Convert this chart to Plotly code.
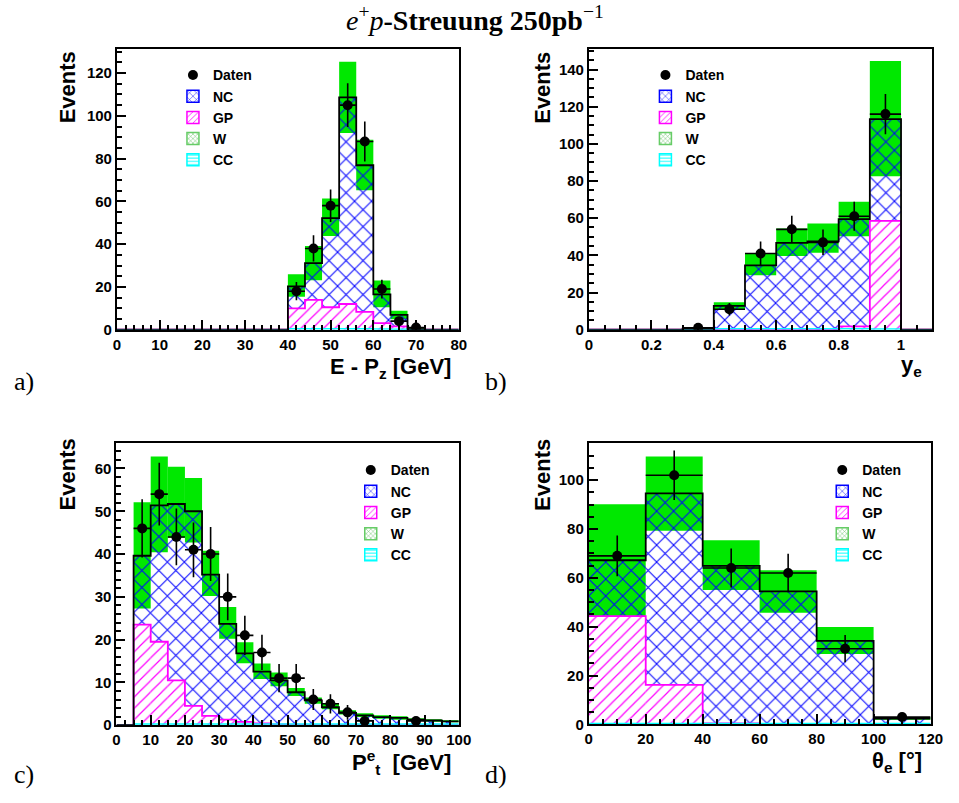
import numpy as np
import plotly.graph_objects as go

# ---------------- data ----------------
# Panel a: E - Pz [GeV], bins of 4 GeV from 0 to 80
A_X0, A_BW = 0.0, 4.0
a_total = [0]*10 + [20.3, 31.1, 52.2, 108.6, 76.9, 16.5, 6.9, 0.3, 0, 0]
a_band_hi = [0]*10 + [25.9, 39.1, 61.3, 125.3, 88.8, 23.0, 8.9, 0.6, 0, 0]
a_band_lo = [0]*10 + [15.4, 23.1, 43.8, 92.0, 65.2, 10.5, 4.9, 0.1, 0, 0]
a_gp = [0]*10 + [10.0, 13.9, 10.5, 12.0, 8.3, 3.1, 1.5, 0, 0, 0]
a_cc = [0]*10 + [0.4, 0.4, 0.4, 0.4, 0.4, 0.3, 0.2, 0, 0, 0]
a_data = [0]*10 + [18, 38, 58, 105, 88, 19, 4, 1, 0, 0]

# Panel b: y_e, bins of 0.1 from 0 to 1.1
B_X0, B_BW = 0.0, 0.1
b_total = [0, 0, 0, 0.5, 12.8, 34.6, 46.7, 47.5, 59.5, 113.3, 0]
b_band_hi = [0, 0, 0, 0.8, 14.7, 40.9, 54.4, 57.2, 68.9, 144.6, 0]
b_band_lo = [0, 0, 0, 0.2, 10.7, 29.3, 39.6, 41.4, 50.3, 82.6, 0]
b_gp = [0, 0, 0, 0, 0, 0, 0, 0, 1.8, 58.6, 0]
b_cc = [0, 0, 0, 0, 0.5, 0.5, 0.5, 0.5, 0.5, 0.4, 0]
b_data = [0, 0, 0, 1, 11, 41, 54, 47, 61, 116, 0]

# Panel c: P_t^e [GeV], bins of 5 GeV from 0 to 100
C_X0, C_BW = 0.0, 5.0
c_total = [0, 39.6, 51.4, 51.7, 50.0, 35.2, 23.7, 16.8, 12.5, 10.5,
           7.7, 5.8, 4.2, 2.9, 2.3, 1.9, 1.7, 1.3, 1.1, 0.9]
c_band_hi = [0, 52.1, 62.8, 60.4, 57.8, 40.8, 27.6, 19.4, 14.4, 12.3,
             8.7, 6.5, 5.0, 3.5, 2.8, 2.3, 2.1, 1.6, 1.4, 1.1]
c_band_lo = [0, 27.3, 40.4, 43.8, 42.7, 30.2, 20.2, 14.5, 10.8, 9.1,
             6.8, 5.0, 3.7, 2.5, 1.9, 1.5, 1.3, 1.0, 0.8, 0.7]
c_gp = [0, 23.5, 19.5, 10.5, 4.5, 2.2, 1.3, 0.8, 0.4, 0.2,
        0.1, 0, 0, 0, 0, 0, 0, 0, 0, 0]
c_cc = [0, 0.3, 0.3, 0.3, 0.3, 0.3, 0.3, 0.3, 0.3, 0.3,
        0.3, 0.3, 0.3, 0.3, 0.3, 0.3, 0.3, 0.3, 0.3, 0.3]
c_data = [0, 46, 54, 44, 41, 40, 30, 21, 17, 11,
          11, 6, 5, 3, 1, 0, 0, 1, 0, 0]

# Panel d: theta_e [deg], bins of 20 deg from 0 to 120
D_X0, D_BW = 0.0, 20.0
d_total = [67.2, 94.6, 64.9, 54.5, 34.2, 2.4]
d_band_hi = [90.1, 109.7, 75.4, 63.1, 39.9, 2.9]
d_band_lo = [44.2, 79.3, 55.0, 45.7, 28.8, 1.9]
d_gp = [44.3, 16.2, 0.4, 0, 0, 0]
d_cc = [0.4, 0.4, 0.4, 0.4, 0.4, 0.4]
d_data = [69, 102, 64, 62, 31, 3]

legend_names = ["Daten", "NC", "GP", "W", "CC"]

# ---------------- style ----------------
W, H = 959, 803
GREEN = "#00e800"
BLUE = "#0000ff"
MAGENTA = "#ff00ff"
CYAN = "#00ffff"
FONT = "Liberation Sans"
SERIF = "Liberation Serif"

def px_x(p):
    return p / W

def px_y(p):
    return 1 - p / H

panels = [
    dict(x0=A_X0, bw=A_BW, total=a_total, hi=a_band_hi, lo=a_band_lo, gp=a_gp, cc=a_cc, data=a_data,
         xdom=(115, 463), ydom=(49, 333), xr=[0, 80], yr=[0, 131.5], xd=10, xm=2, yd=20, ym=5,
         leg=(172, 60)),
    dict(x0=B_X0, bw=B_BW, total=b_total, hi=b_band_hi, lo=b_band_lo, gp=b_gp, cc=b_cc, data=b_data,
         xdom=(595.5, 945), ydom=(49, 333), xr=[0, 1.1], yr=[0, 151.3], xd=0.2, xm=0.05, yd=20, ym=5,
         leg=(653, 60)),
    dict(x0=C_X0, bw=C_BW, total=c_total, hi=c_band_hi, lo=c_band_lo, gp=c_gp, cc=c_cc, data=c_data,
         xdom=(114.5, 463), ydom=(447.7, 732.5), xr=[0, 100], yr=[0, 65.9], xd=10, xm=2.5, yd=10, ym=2,
         leg=(353, 459)),
    dict(x0=D_X0, bw=D_BW, total=d_total, hi=d_band_hi, lo=d_band_lo, gp=d_gp, cc=d_cc, data=d_data,
         xdom=(595.3, 943.3), ydom=(447.7, 731.7), xr=[0, 120], yr=[0, 115.1], xd=20, xm=5, yd=20, ym=5,
         leg=(833, 459)),
]

fig = go.Figure()
layout = dict(
    width=W, height=H, margin=dict(l=0, r=0, t=0, b=0),
    paper_bgcolor="white", plot_bgcolor="white", barmode="overlay",
    showlegend=True,
)

tickfont = dict(family=FONT, size=15, color="black", weight="bold")

for i, p in enumerate(panels):
    k = i + 1
    xa = "x" if k == 1 else f"x{k}"
    ya = "y" if k == 1 else f"y{k}"
    lg = "legend" if k == 1 else f"legend{k}"
    n = len(p["total"])
    centers = np.array([p["x0"] + p["bw"] * (j + 0.5) for j in range(n)])
    edges = np.array([p["x0"] + p["bw"] * j for j in range(n + 1)])
    total = np.array(p["total"], float)
    hi = np.array(p["hi"], float)
    lo = np.array(p["lo"], float)
    gp = np.array(p["gp"], float)
    cc = np.array(p["cc"], float)
    data = np.array(p["data"], float)

    # error band
    fig.add_trace(go.Bar(x=centers, y=hi - lo, base=lo, width=p["bw"], xaxis=xa, yaxis=ya,
                         marker=dict(color=GREEN, line=dict(width=0)), showlegend=False,
                         hoverinfo="skip"))
    # GP (hatched)
    fig.add_trace(go.Bar(x=centers, y=gp, base=0, width=p["bw"], xaxis=xa, yaxis=ya,
                         marker=dict(color="rgba(0,0,0,0)", line=dict(width=0),
                                     pattern=dict(shape="/", fgcolor=MAGENTA, bgcolor="rgba(0,0,0,0)",
                                                  size=8, solidity=0.15, fillmode="replace")),
                         showlegend=False, hoverinfo="skip"))
    # NC (cross-hatched) from GP top to total
    fig.add_trace(go.Bar(x=centers, y=np.clip(total - gp, 0, None), base=gp, width=p["bw"],
                         xaxis=xa, yaxis=ya,
                         marker=dict(color="rgba(0,0,0,0)", line=dict(width=0),
                                     pattern=dict(shape="x", fgcolor=BLUE, bgcolor="rgba(0,0,0,0)",
                                                  size=12, solidity=0.16, fillmode="replace")),
                         showlegend=False, hoverinfo="skip"))
    # GP outline
    fig.add_trace(go.Scatter(x=edges, y=np.append(gp, gp[-1]), mode="lines", line_shape="hv",
                             line=dict(color=MAGENTA, width=1.8), xaxis=xa, yaxis=ya,
                             showlegend=False, hoverinfo="skip"))
    # CC
    fig.add_trace(go.Scatter(x=edges, y=np.append(cc, cc[-1]), mode="lines", line_shape="hv",
                             line=dict(color=CYAN, width=1.5), xaxis=xa, yaxis=ya,
                             showlegend=False, hoverinfo="skip"))
    # total outline
    fig.add_trace(go.Scatter(x=edges, y=np.append(total, total[-1]), mode="lines", line_shape="hv",
                             line=dict(color="black", width=1.8), xaxis=xa, yaxis=ya,
                             showlegend=False, hoverinfo="skip"))
    # data
    m = data > 0
    fig.add_trace(go.Scatter(x=centers[m], y=data[m], mode="markers", xaxis=xa, yaxis=ya,
                             marker=dict(color="black", size=10),
                             error_y=dict(type="data", array=np.sqrt(data[m]), color="black",
                                          thickness=1.6, width=0),
                             error_x=dict(type="data", array=np.full(m.sum(), p["bw"] / 2),
                                          color="black", thickness=1.6, width=0),
                             showlegend=False, hoverinfo="skip"))

    # legend-only entries
    fig.add_trace(go.Scatter(x=[None], y=[None], mode="markers", name=legend_names[0],
                             marker=dict(color="black", size=10), xaxis=xa, yaxis=ya,
                             legend=lg, legendrank=1))
    fig.add_trace(go.Bar(x=[None], y=[None], name=legend_names[1], xaxis=xa, yaxis=ya,
                         marker=dict(color="white", line=dict(color=BLUE, width=1.5),
                                     pattern=dict(shape="x", fgcolor=BLUE, bgcolor="white",
                                                  size=6, solidity=0.18, fillmode="replace")),
                         legend=lg, legendrank=2))
    fig.add_trace(go.Bar(x=[None], y=[None], name=legend_names[2], xaxis=xa, yaxis=ya,
                         marker=dict(color="white", line=dict(color=MAGENTA, width=1.5),
                                     pattern=dict(shape="/", fgcolor=MAGENTA, bgcolor="white",
                                                  size=5, solidity=0.2, fillmode="replace")),
                         legend=lg, legendrank=3))
    fig.add_trace(go.Bar(x=[None], y=[None], name=legend_names[3], xaxis=xa, yaxis=ya,
                         marker=dict(color="white", line=dict(color="#66cc66", width=1.5),
                                     pattern=dict(shape="x", fgcolor="#55bb55", bgcolor="white",
                                                  size=4, solidity=0.25, fillmode="replace")),
                         legend=lg, legendrank=4))
    fig.add_trace(go.Bar(x=[None], y=[None], name=legend_names[4], xaxis=xa, yaxis=ya,
                         marker=dict(color="white", line=dict(color=CYAN, width=1.5),
                                     pattern=dict(shape="-", fgcolor=CYAN, bgcolor="white",
                                                  size=4, solidity=0.3, fillmode="replace")),
                         legend=lg, legendrank=5))

    xkey = "xaxis" if k == 1 else f"xaxis{k}"
    ykey = "yaxis" if k == 1 else f"yaxis{k}"
    layout[xkey] = dict(
        domain=[px_x(p["xdom"][0]), px_x(p["xdom"][1])], range=p["xr"], anchor=ya,
        showline=True, linecolor="black", linewidth=2, mirror=True,
        ticks="inside", ticklen=10, tickwidth=1.5, tickcolor="black",
        tick0=0, dtick=p["xd"], showgrid=False, zeroline=False,
        minor=dict(ticks="inside", ticklen=5, tickwidth=1.5, tickcolor="black",
                   dtick=p["xm"], tick0=0, showgrid=False),
        tickfont=tickfont, fixedrange=True,
    )
    layout[ykey] = dict(
        domain=[px_y(p["ydom"][1]), px_y(p["ydom"][0])], range=p["yr"], anchor=xa,
        showline=True, linecolor="black", linewidth=2, mirror=True,
        ticks="inside", ticklen=9, tickwidth=1.5, tickcolor="black",
        tick0=0, dtick=p["yd"], showgrid=False, zeroline=False,
        minor=dict(ticks="inside", ticklen=5, tickwidth=1.5, tickcolor="black",
                   dtick=p["ym"], tick0=0, showgrid=False),
        tickfont=tickfont, fixedrange=True,
    )
    layout[lg] = dict(
        x=px_x(p["leg"][0]), y=px_y(p["leg"][1]), xanchor="left", yanchor="top",
        bgcolor="rgba(0,0,0,0)", borderwidth=0, itemwidth=30, tracegroupgap=0,
        font=dict(family=FONT, size=14, color="black", weight="bold"),
        traceorder="normal",
    )

annotations = []
# title
annotations.append(dict(
    x=0.5, y=px_y(19), xref="paper", yref="paper", xanchor="center", yanchor="middle",
    text="<i>e</i><sup>+</sup><i>p</i><b>-Streuung 250pb</b><sup>−1</sup>", showarrow=False,
    font=dict(family=SERIF, size=28, color="black")))
# y titles
for (xx, yy) in [(65, 50), (548, 50), (65, 441), (548, 441)]:
    annotations.append(dict(x=px_x(xx), y=px_y(yy), xref="paper", yref="paper",
                            xanchor="center", yanchor="top", textangle=-90, text="Events",
                            showarrow=False,
                            font=dict(family=FONT, size=22, color="black", weight="bold")))
# x titles
xtitles = [
    ("E - P<sub>z</sub> [GeV]", 457, 372),
    ("y<sub>e</sub>", 937, 370),
    ("P<sup>e</sup><sub>t</sub>  [GeV]", 457, 770),
    ("θ<sub>e</sub> [°]", 937, 770),
]
for t, xx, yy in xtitles:
    annotations.append(dict(x=px_x(xx), y=px_y(yy), xref="paper", yref="paper",
                            xanchor="right", yanchor="middle", text=t, showarrow=False,
                            font=dict(family=FONT, size=22, color="black", weight="bold")))
# panel labels
for t, xx, yy in [("a)", 8, 385), ("b)", 488, 385), ("c)", 8, 782), ("d)", 488, 782)]:
    annotations.append(dict(x=px_x(xx), y=px_y(yy), xref="paper", yref="paper",
                            xanchor="left", yanchor="middle", text=t, showarrow=False,
                            font=dict(family=SERIF, size=26, color="black")))

layout["annotations"] = annotations
fig.update_layout(**layout)
fig.write_html("out.html")
